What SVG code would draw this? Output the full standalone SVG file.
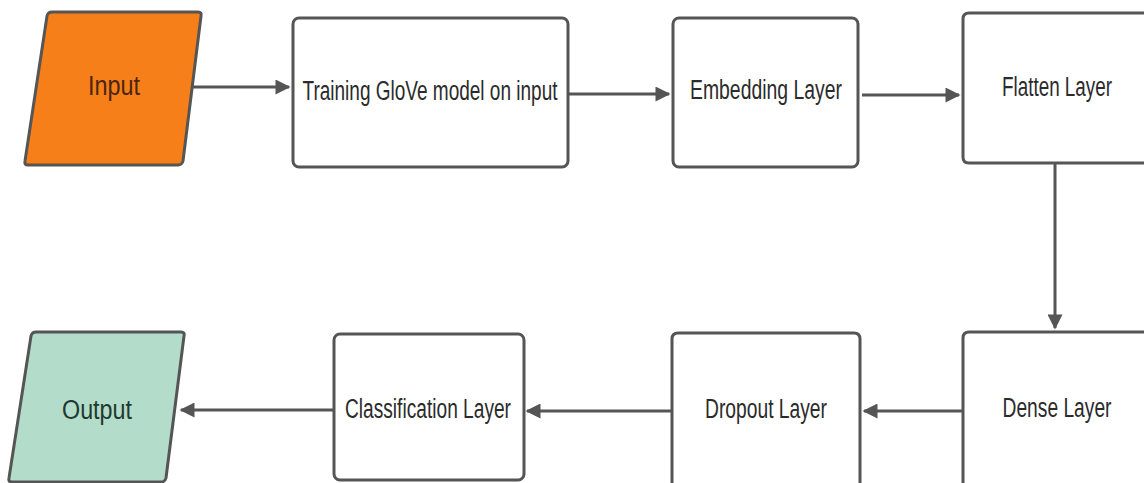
<svg xmlns="http://www.w3.org/2000/svg" width="1144" height="483" viewBox="0 0 1144 483">
<style>
.box{fill:#ffffff;stroke:#555555;stroke-width:3}
.lbl{font-family:"Liberation Sans",Arial,sans-serif;font-size:27px;fill:#2b2b2b;text-anchor:middle}
.edge{stroke:#555555;stroke-width:3;fill:none}
</style>
<defs>
<marker id="ah" viewBox="0 0 10 10" refX="9" refY="5" markerWidth="6" markerHeight="5" markerUnits="strokeWidth" orient="auto">
<path d="M0,0 L10,5 L0,10 z" fill="#555555"/>
</marker>
</defs>
<rect width="1144" height="483" fill="#ffffff"/>
<g id="input">
<path d="M52,12 L198,12 Q202,12 201,16 L183,161 Q182,165 178,165 L28,165 Q24,165 25,161 L47,16 Q48,12 52,12 z" fill="#f77f1a" stroke="#555555" stroke-width="3"/>
<text class="lbl" x="114" y="95" textLength="52" lengthAdjust="spacingAndGlyphs" style="fill:#4a2610">Input</text>
</g>
<g id="training">
<rect class="box" x="293" y="18" width="275" height="149" rx="6"/>
<text class="lbl" x="430" y="100" textLength="255" lengthAdjust="spacingAndGlyphs">Training GloVe model on input</text>
</g>
<g id="embedding">
<rect class="box" x="673" y="18" width="185" height="149" rx="6"/>
<text class="lbl" x="766" y="99" textLength="152" lengthAdjust="spacingAndGlyphs">Embedding Layer</text>
</g>
<g id="flatten">
<path class="box" d="M1144,13 L969,13 Q963,13 963,19 L963,157 Q963,163 969,163 L1144,163"/>
<text class="lbl" x="1057" y="96" textLength="110" lengthAdjust="spacingAndGlyphs">Flatten Layer</text>
</g>
<g id="dense">
<path class="box" d="M1144,332 L969,332 Q963,332 963,338 L963,483"/>
<text class="lbl" x="1057" y="417" textLength="109" lengthAdjust="spacingAndGlyphs">Dense Layer</text>
</g>
<g id="dropout">
<path class="box" d="M672,483 L672,339 Q672,333 678,333 L854,333 Q860,333 860,339 L860,483"/>
<text class="lbl" x="766" y="418" textLength="122" lengthAdjust="spacingAndGlyphs">Dropout Layer</text>
</g>
<g id="classification">
<rect class="box" x="334" y="334" width="190" height="146" rx="6"/>
<text class="lbl" x="428" y="418" textLength="166" lengthAdjust="spacingAndGlyphs">Classification Layer</text>
</g>
<g id="output">
<path d="M36,332 L181,332 Q185,332 184,336 L166,478 Q165,482 161,482 L12,482 Q8,482 9,478 L31,336 Q32,332 36,332 z" fill="#b3dccb" stroke="#555555" stroke-width="3"/>
<text class="lbl" x="97" y="419" textLength="70" lengthAdjust="spacingAndGlyphs" style="fill:#1f3a2e">Output</text>
</g>
<g id="connectors">
<line class="edge" x1="193" y1="87" x2="289" y2="87" marker-end="url(#ah)"/>
<line class="edge" x1="568" y1="94" x2="669" y2="94" marker-end="url(#ah)"/>
<line class="edge" x1="862" y1="95" x2="959" y2="95" marker-end="url(#ah)"/>
<line class="edge" x1="1055" y1="163" x2="1055" y2="328" marker-end="url(#ah)"/>
<line class="edge" x1="963" y1="411" x2="864" y2="411" marker-end="url(#ah)"/>
<line class="edge" x1="672" y1="411" x2="527" y2="411" marker-end="url(#ah)"/>
<line class="edge" x1="334" y1="410" x2="181" y2="410" marker-end="url(#ah)"/>
</g>
</svg>
